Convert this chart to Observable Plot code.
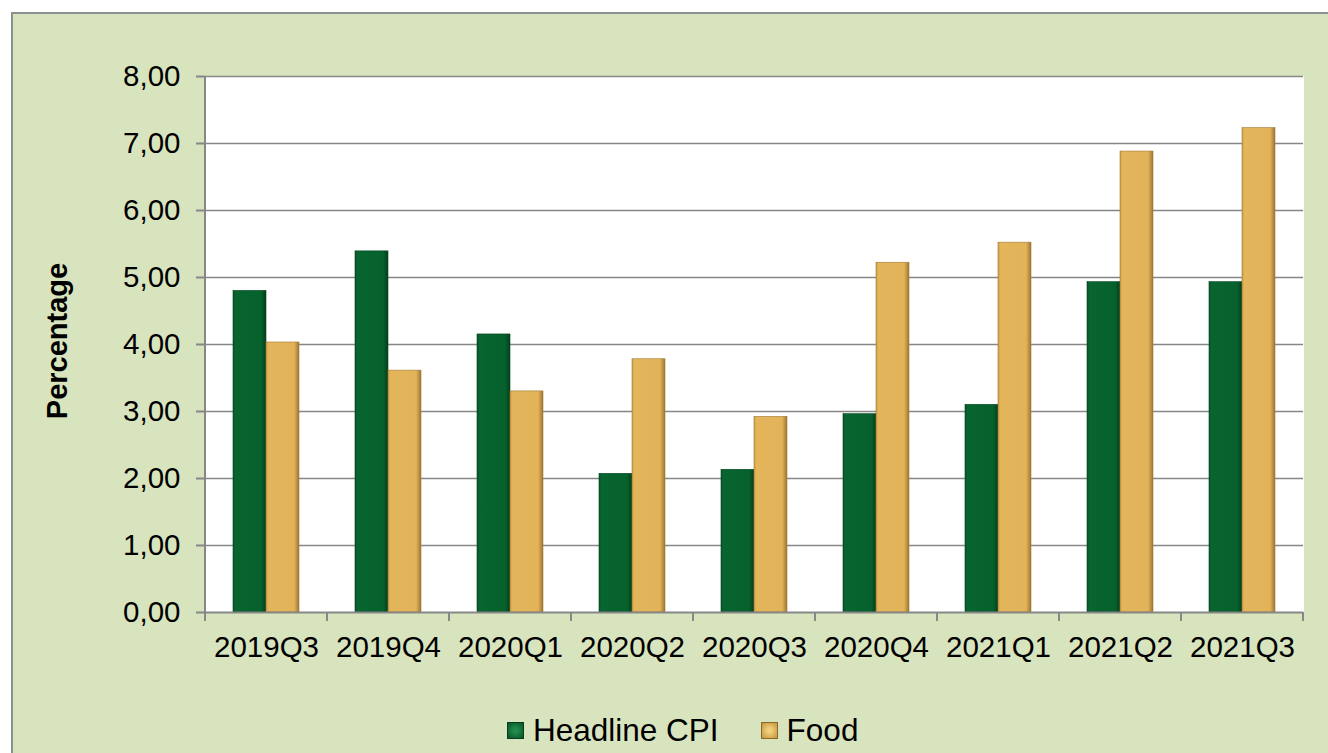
<!DOCTYPE html>
<html>
<head>
<meta charset="utf-8">
<script src="https://cdn.jsdelivr.net/npm/d3@7"></script>
<script src="https://cdn.jsdelivr.net/npm/@observablehq/plot@0.6"></script>
<style>
  html, body { margin: 0; padding: 0; background: #ffffff; width: 1328px; height: 753px; overflow: hidden; }
  body { position: relative; font-family: "Liberation Sans", Arial, sans-serif; }
  #panel { position: absolute; left: 11px; top: 12px; width: 1340px; height: 760px; background: #d8e4bd; border: 2px solid #8f8f8f; box-sizing: border-box; }
  #chart { position: absolute; left: 0; top: 0; }
  #ylabel { position: absolute; left: 57px; top: 341px; transform: translate(-50%, -50%) rotate(-90deg); font-weight: bold; font-size: 29px; white-space: nowrap; color: #000; }
  #legend { position: absolute; left: 507px; top: 712px; display: flex; align-items: center; font-size: 31.5px; color: #000; }
  .sw { width: 17px; height: 17px; margin-right: 9px; box-sizing: border-box; }
  .item { display: flex; align-items: center; margin-right: 42px; }
</style>
</head>
<body>
<svg width="0" height="0" style="position:absolute">
  <defs>
    <linearGradient id="gCPI" x1="0" x2="1" y1="0" y2="0">
      <stop offset="0" stop-color="#0b4f25"/>
      <stop offset="0.07" stop-color="#086530"/>
      <stop offset="0.85" stop-color="#06612c"/>
      <stop offset="1" stop-color="#033f1b"/>
    </linearGradient>
    <linearGradient id="gFood" x1="0" x2="1" y1="0" y2="0">
      <stop offset="0" stop-color="#c89a46"/>
      <stop offset="0.07" stop-color="#e4b65c"/>
      <stop offset="0.85" stop-color="#e2b359"/>
      <stop offset="1" stop-color="#9c7632"/>
    </linearGradient>
  </defs>
</svg>
<div id="panel"></div>
<div id="chart"></div>
<div id="ylabel">Percentage</div>
<div id="legend">
  <div class="item"><div class="sw" style="background: radial-gradient(circle, #1f8a4a 20%, #0a5a2a 90%); border: 1px solid #063d1c;"></div><span>Headline CPI</span></div>
  <div class="item"><div class="sw" style="background: radial-gradient(circle, #f2cf7a 20%, #c99a45 90%); border: 1px solid #8e6a2a;"></div><span>Food</span></div>
</div>
<script>
const quarters = ["2019Q3", "2019Q4", "2020Q1", "2020Q2", "2020Q3", "2020Q4", "2021Q1", "2021Q2", "2021Q3"];
const seriesNames = ["Headline CPI", "Food"];
const headlineCPI = [4.80, 5.39, 4.15, 2.07, 2.13, 2.96, 3.10, 4.93, 4.93];
const food = [4.03, 3.61, 3.30, 3.78, 2.92, 5.22, 5.52, 6.88, 7.23];
const yTicks = [0, 1, 2, 3, 4, 5, 6, 7, 8];

const cpiRows = quarters.map((q, i) => ({q, series: seriesNames[0], value: headlineCPI[i]}));
const foodRows = quarters.map((q, i) => ({q, series: seriesNames[1], value: food[i]}));

const gridColor = "#878787";
const fmt = d => d.toFixed(2).replace(".", ",");

const chart = Plot.plot({
  width: 1328,
  height: 680,
  marginLeft: 203,
  marginRight: 23,
  marginTop: 76,
  marginBottom: 68,
  style: {background: "transparent", fontFamily: "'Liberation Sans', Arial, sans-serif", fontSize: "29.5px", color: "#000", overflow: "visible"},
  fx: {domain: quarters, paddingInner: 0, paddingOuter: 0, label: null, axis: null},
  x: {domain: seriesNames, paddingInner: 0, paddingOuter: 0.8, axis: null},
  y: {domain: [0, 8], axis: null},
  marks: [
    Plot.frame({fill: "white", stroke: "white"}),
    Plot.gridY(yTicks.slice(1), {stroke: gridColor, strokeOpacity: 1, strokeWidth: 1.6}),
    Plot.barY(cpiRows, {fx: "q", x: "series", y: "value", fill: "url(#gCPI)", stroke: "#05431e", strokeWidth: 0.6}),
    Plot.barY(foodRows, {fx: "q", x: "series", y: "value", fill: "url(#gFood)", stroke: "#a27a34", strokeWidth: 0.6}),
    Plot.ruleY([0], {stroke: gridColor, strokeWidth: 2}),
    Plot.axisFx({anchor: "bottom", tickSize: 0, tickPadding: 24, label: null, fill: "#000"}),
    Plot.axisY(yTicks, {tickSize: 9, tickPadding: 16, tickFormat: fmt, label: null, stroke: gridColor, strokeWidth: 2, fill: "#000"})
  ]
});
document.getElementById("chart").appendChild(chart);

// y-axis line and category boundary ticks, positioned through Plot's own scales
const fxS = chart.scale("fx");
const yS = chart.scale("y");
const y0 = yS.apply(0), yTop = yS.apply(8);
const bounds = quarters.map(q => fxS.apply(q));
bounds.push(fxS.apply(quarters[quarters.length - 1]) + fxS.bandwidth);
const g = d3.select(chart).append("g").attr("stroke", gridColor).attr("stroke-width", 2);
g.append("line").attr("x1", bounds[0]).attr("x2", bounds[0]).attr("y1", yTop).attr("y2", y0);
g.selectAll("line.b").data(bounds).join("line").attr("class", "b")
  .attr("x1", d => d).attr("x2", d => d).attr("y1", y0).attr("y2", y0 + 9);
</script>
</body>
</html>
